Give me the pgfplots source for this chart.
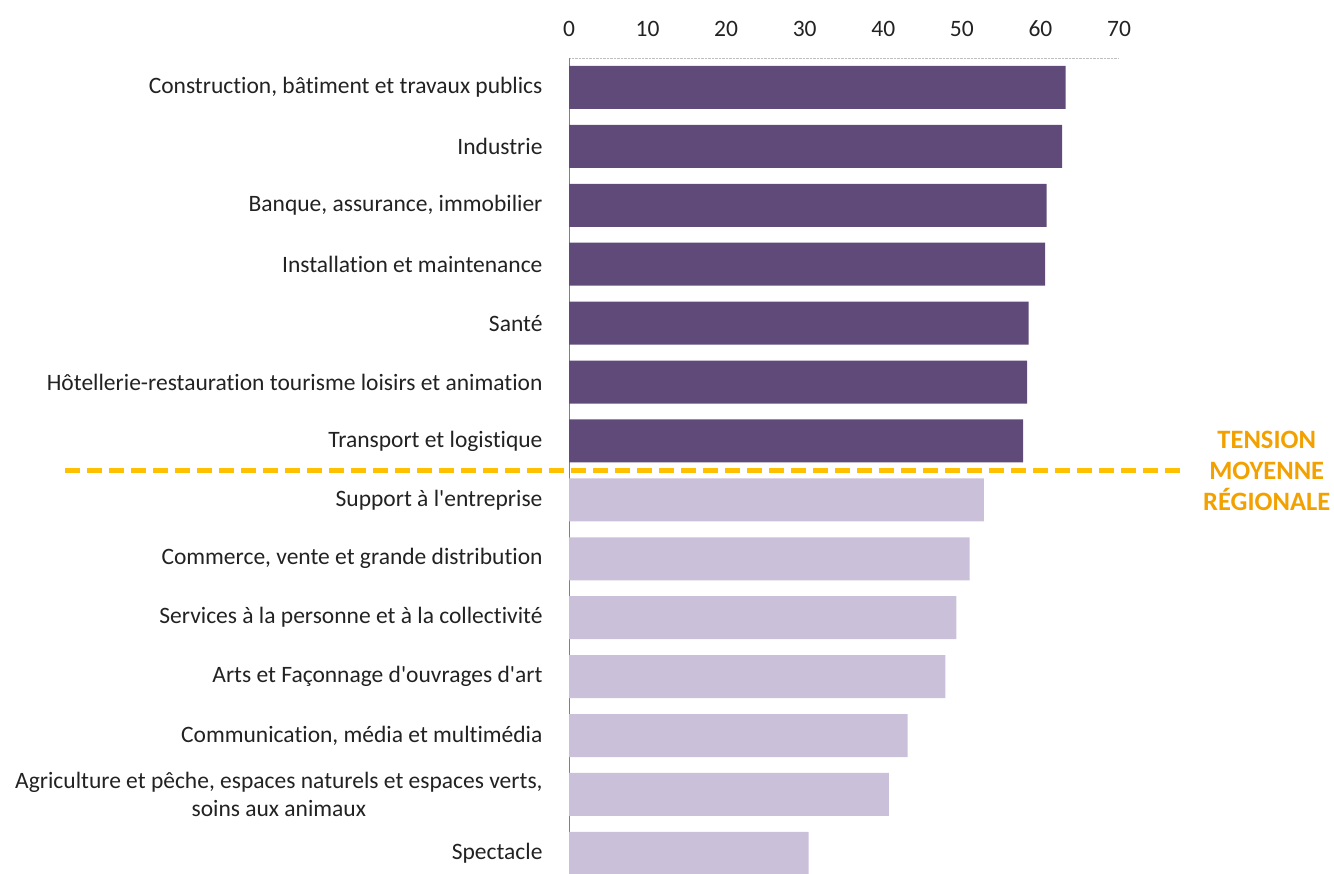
\documentclass[border=0pt]{standalone}
\usepackage{pgfplots}
\pgfplotsset{compat=1.18}
\usepackage{fontspec}
\setmainfont{Carlito}[RawFeature=-liga]
\definecolor{darkp}{HTML}{5F4A7A}
\definecolor{lightp}{HTML}{CAC0DA}
\definecolor{dashc}{HTML}{FFC000}
\definecolor{txto}{HTML}{F2A100}
\definecolor{lbl}{HTML}{222222}
\begin{document}
\begin{tikzpicture}[x=1pt,y=1pt]
\begin{axis}[
  at={(569pt,-58pt)}, anchor=north west,
  scale only axis, width=550pt, height=816pt,
  xmin=0, xmax=70, ymin=-0.35, ymax=13.5,
  axis x line*=top, axis y line*=left,
  x axis line style={densely dotted, draw=gray!50, -},
  y axis line style={draw=gray, line width=1pt, -},
  xtick={0,10,...,70},
  ytick={0,...,13},
  yticklabels={Spectacle,
    {Agriculture et pêche, espaces naturels et espaces verts,\\soins aux animaux},
    Communication{,} média et multimédia,
    Arts et Façonnage d\textquotesingle ouvrages d\textquotesingle art,
    Services à la personne et à la collectivité,
    Commerce{,} vente et grande distribution,
    Support à l\textquotesingle entreprise,
    Transport et logistique,
    Hôtellerie-restauration tourisme loisirs et animation,
    Santé,
    Installation et maintenance,
    Banque{,} assurance{,} immobilier,
    Industrie,
    Construction{,} bâtiment et travaux publics},
  major tick length=0pt,
  tick label style={font=\fontsize{23.5}{28}\selectfont, text=lbl},
  xticklabel style={yshift=18pt},
  yticklabel style={align=center, xshift=-23pt},
  /pgf/number format/assume math mode=true,
  clip=false,
]
\addplot[xbar, bar width=43pt, bar shift=0pt, fill=darkp, draw=none]
  coordinates {(63.2,13) (62.75,12) (60.8,11) (60.6,10) (58.5,9) (58.3,8) (57.8,7)};
\addplot[xbar, bar width=43pt, bar shift=0pt, fill=lightp, draw=none]
  coordinates {(52.8,6) (51.0,5) (49.3,4) (47.9,3) (43.1,2) (40.7,1) (30.5,0)};
\addplot[dashc, line width=5pt, dash pattern=on 15pt off 7pt, mark=none]
  coordinates {(-64.1,6.5) (77.8,6.5)};
\node[font=\bfseries\fontsize{26.5}{31}\selectfont, text=txto, align=center]
  at (axis cs:88.8,6.5) {TENSION\\MOYENNE\\RÉGIONALE};
\end{axis}
\pgfresetboundingbox
\path[use as bounding box] (0,0) rectangle (1334pt,-874pt);
\end{tikzpicture}
\end{document}
